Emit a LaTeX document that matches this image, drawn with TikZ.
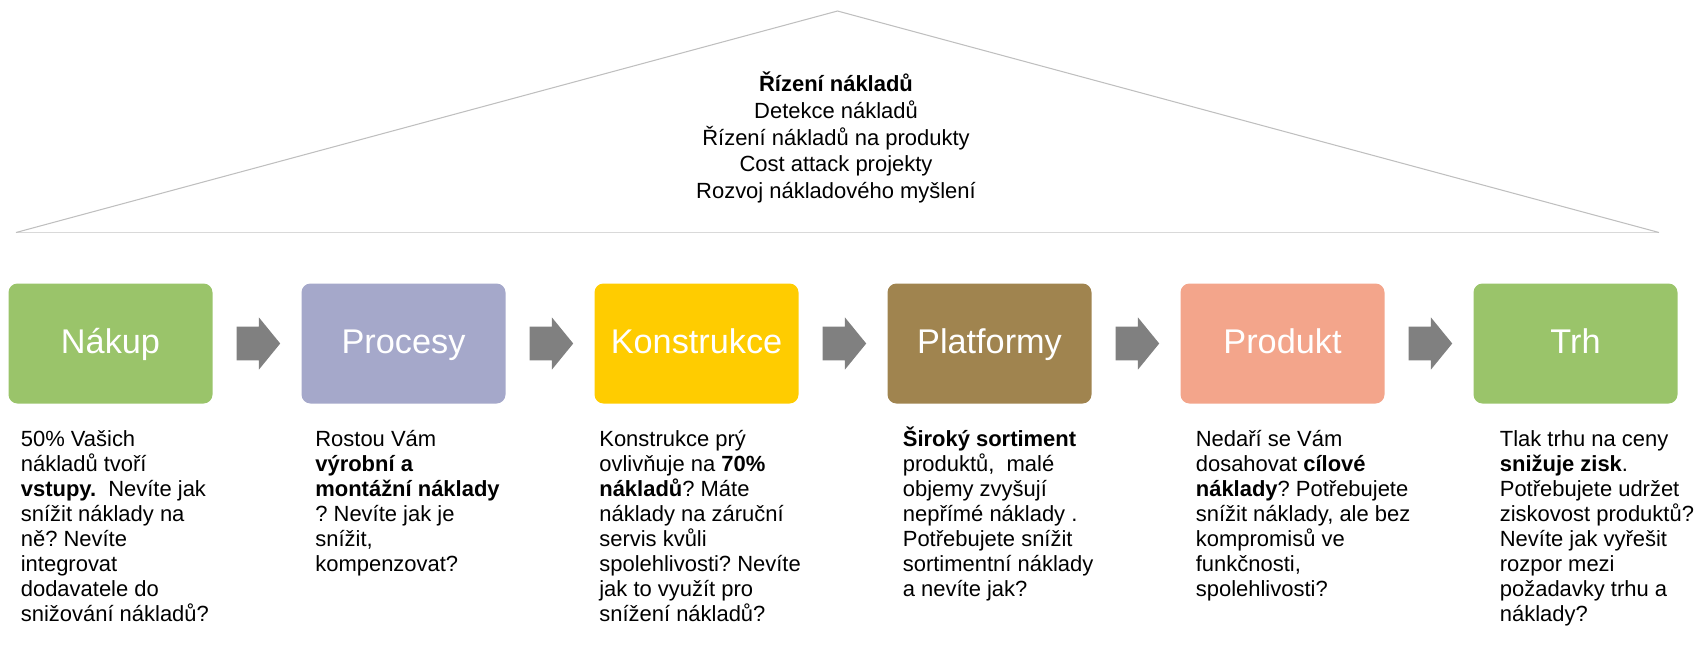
\documentclass[tikz,border=0pt]{standalone}
\usepackage{fontspec}
\setmainfont{Liberation Sans}
\usetikzlibrary{calc}
\usetikzlibrary{shapes.arrows}
\frenchspacing

\definecolor{roofgray}{RGB}{191,191,191}
\definecolor{basegray}{RGB}{217,217,217}
\definecolor{arrowgray}{RGB}{128,128,128}
\definecolor{nakupgreen}{RGB}{154,196,106}
\definecolor{procesyblue}{RGB}{165,168,202}
\definecolor{konstrukceyellow}{RGB}{255,204,0}
\definecolor{platformybrown}{RGB}{160,132,79}
\definecolor{produktsalmon}{RGB}{243,165,139}

% fixed height of the first line of a note
\newcommand{\notetop}{\rule{0pt}{0.45cm}}

\tikzset{
  stage/.style={rounded corners=0.18cm, minimum width=4.08cm, minimum height=2.4cm,
    inner sep=0pt, text height=0.5cm, text depth=0.1cm, text=white,
    font=\fontsize{19.5}{23}\selectfont},
  flow/.style={single arrow, fill=arrowgray, draw=none, inner xsep=0pt, inner ysep=0.33cm,
    minimum height=0.87cm, single arrow head extend=0.185cm,
    single arrow tip angle=101.6, anchor=tail},
  note/.style={anchor=north west, align=left, inner sep=0pt,
    font=\fontsize{12.5}{14.2}\selectfont}
}

\begin{document}
\begin{tikzpicture}
                \useasboundingbox (0,0) rectangle (33.9,-13.38);
                % roof
                \coordinate (roofL) at (0.32,-4.65);
                \coordinate (roofR) at (33.18,-4.65);
                \coordinate (roofT) at (16.75,-0.22);
                \draw[basegray, line width=0.9pt] (roofL) -- (roofR);
                \draw[roofgray, line width=0.6pt] (roofL) -- (roofT) -- (roofR);
                \node[align=center, font=\fontsize{12.5}{15.2}\selectfont] (roof) at (16.72,-2.75)
                  {\textbf{Řízení nákladů}\\ Detekce nákladů\\ Řízení nákladů na produkty\\
                   Cost attack projekty\\ Rozvoj nákladového myšlení};
                % stages
                \node[stage, fill=nakupgreen] (nakup) at (2.21,-6.87) {Nákup};
                \node[stage, fill=procesyblue] (procesy) at (8.07,-6.87) {Procesy};
                \node[stage, fill=konstrukceyellow] (konstrukce) at (13.93,-6.87) {Konstrukce};
                \node[stage, fill=platformybrown] (platformy) at (19.79,-6.87) {Platformy};
                \node[stage, fill=produktsalmon] (produkt) at (25.65,-6.87) {Produkt};
                \node[stage, fill=nakupgreen] (trh) at (31.51,-6.87) {Trh};
                \node[flow] (f1) at ($(nakup.east)+(0.47,0)$) {};
                \node[flow] (f2) at ($(procesy.east)+(0.47,0)$) {};
                \node[flow] (f3) at ($(konstrukce.east)+(0.47,0)$) {};
                \node[flow] (f4) at ($(platformy.east)+(0.47,0)$) {};
                \node[flow] (f5) at ($(produkt.east)+(0.47,0)$) {};
                % notes
                \node[note] (nakupnote) at (0.41,-8.48)
                  {\notetop 50\% Vašich\\ nákladů tvoří\\ \textbf{vstupy.}\ \ Nevíte jak\\ snížit náklady na\\
                   ně? Nevíte\\ integrovat\\ dodavatele do\\ snižování nákladů?};
                \node[note] (procesynote) at (6.30,-8.48)
                  {\notetop Rostou Vám\\ \textbf{výrobní a}\\ \textbf{montážní náklady}\\ ? Nevíte jak je\\
                   snížit,\\ kompenzovat?};
                \node[note] (konstrukcenote) at (11.98,-8.48)
                  {\notetop Konstrukce prý\\ ovlivňuje na \textbf{70\%}\\ \textbf{nákladů}? Máte\\ náklady na záruční\\
                   servis kvůli\\ spolehlivosti? Nevíte\\ jak to využít pro\\ snížení nákladů?};
                \node[note] (platformynote) at (18.05,-8.48)
                  {\notetop\textbf{Široký sortiment}\\ produktů,\ \ malé\\ objemy zvyšují\\ nepřímé náklady .\\
                   Potřebujete snížit\\ sortimentní náklady\\ a nevíte jak?};
                \node[note] (produktnote) at (23.91,-8.48)
                  {\notetop Nedaří se Vám\\ dosahovat \textbf{cílové}\\ \textbf{náklady}? Potřebujete\\ snížit náklady, ale bez\\
                   kompromisů ve\\ funkčnosti,\\ spolehlivosti?};
                \node[note] (trhnote) at (29.99,-8.48)
                  {\notetop Tlak trhu na ceny\\ \textbf{snižuje zisk}.\\ Potřebujete udržet\\ ziskovost produktů?\\
                   Nevíte jak vyřešit\\ rozpor mezi\\ požadavky trhu a\\ náklady?};
            \end{tikzpicture}
\end{document}
